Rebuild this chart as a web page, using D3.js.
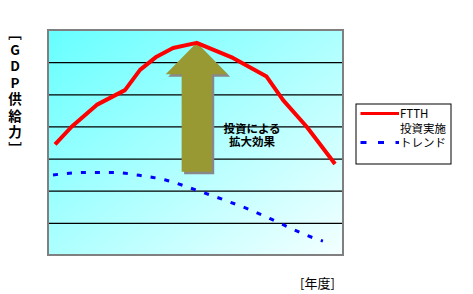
<!DOCTYPE html>
<html>
<head>
<meta charset="utf-8">
<script src="https://cdn.jsdelivr.net/npm/d3@7"></script>
<style>
  body { margin: 0; background: #fff; }
  svg { display: block; font-family: "Noto Sans CJK JP", sans-serif; }
</style>
</head>
<body>
<div id="chart"></div>
<script>
// data (x: position along the period axis 0-100, y: GDP supply level 0-7)
var ftthX = [2.4, 8, 16.5, 26.1, 31.2, 36.8, 42.4, 50.4, 62.7, 74.1, 79.7, 87.7, 97.3];
var ftthY = [3.44, 3.99, 4.67, 5.13, 5.76, 6.17, 6.44, 6.6, 6.13, 5.55, 4.82, 3.99, 2.83];
var trendX = [1.7, 12.5, 21.9, 30.9, 40.4, 50.2, 59.8, 69.2, 78.4, 88.0, 93.2];
var trendY = [2.49, 2.57, 2.57, 2.48, 2.32, 2.02, 1.71, 1.38, 1.0, 0.6, 0.43];
var gridTicks = [1, 2, 3, 4, 5, 6];
// arrow: tip, head base, shaft bottom (data units)
var arrowX = 50.4;
var arrowLevels = [6.6, 5.62, 2.59];
var legendLabels = [["FTTH", "投資実施"], ["トレンド"]];
var yTitle = ["﹇", "G", "D", "P", "供", "給", "力", "﹈"];

var W = 473, H = 294;
var margin = {top: 30, right: 130, bottom: 39, left: 48};
var width = W - margin.left - margin.right;
var height = H - margin.top - margin.bottom;

var svg = d3.select("#chart").append("svg")
    .attr("width", W)
    .attr("height", H);

var defs = svg.append("defs");
var grad = defs.append("linearGradient")
    .attr("id", "bg")
    .attr("x1", "0%").attr("y1", "0%")
    .attr("x2", "100%").attr("y2", "100%");
grad.append("stop").attr("offset", "0%").attr("stop-color", "#66ffff");
grad.append("stop").attr("offset", "100%").attr("stop-color", "#f4ffff");

var g = svg.append("g")
    .attr("transform", "translate(" + margin.left + "," + margin.top + ")");

var x = d3.scaleLinear().domain([0, 100]).range([0, width]);
var y = d3.scaleLinear().domain([0, 7]).range([height, 0]);

// plot background
g.append("rect")
    .attr("width", width)
    .attr("height", height)
    .style("fill", "url(#bg)");

// gridlines
g.append("g")
    .attr("class", "grid")
    .call(d3.axisLeft(y).tickValues(gridTicks).tickSize(-width).tickFormat(""))
    .call(function (s) {
        s.select(".domain").remove();
        s.selectAll("line").attr("stroke", "#000").attr("stroke-width", 1.3);
    });

// plot border
g.append("rect")
    .attr("width", width)
    .attr("height", height)
    .style("fill", "none")
    .style("stroke", "#808080")
    .style("stroke-width", 2);

// big arrow with shadow
var headHalf = 10.5, shaftHalf = 5.1;
function arrowPts() {
    var tip = y(arrowLevels[0]), base = y(arrowLevels[1]), bot = y(arrowLevels[2]);
    var cx = x(arrowX);
    var hw = x(headHalf) - x(0), sw = x(shaftHalf) - x(0);
    return [[cx, tip], [cx + hw, base], [cx + sw, base], [cx + sw, bot],
        [cx - sw, bot], [cx - sw, base], [cx - hw, base]];
}
g.append("polygon")
    .attr("points", arrowPts().map(function (p) { return (p[0] + 2.5) + "," + (p[1] + 2.5); }).join(" "))
    .style("fill", "#888888");
g.append("polygon")
    .attr("points", arrowPts().map(function (p) { return p.join(","); }).join(" "))
    .style("fill", "#999933");

// annotation
var note = g.append("text")
    .attr("text-anchor", "middle")
    .style("font-size", "11.5px")
    .style("font-weight", "bold");
note.append("tspan").attr("x", 204).attr("y", 102.5).text("投資による");
note.append("tspan").attr("x", 204).attr("y", 116).text("拡大効果");

var line = d3.line()
    .x(function (d) { return x(d[0]); })
    .y(function (d) { return y(d[1]); });
var curve = d3.line()
    .x(function (d) { return x(d[0]); })
    .y(function (d) { return y(d[1]); })
    .curve(d3.curveMonotoneX);

g.append("path")
    .datum(d3.zip(trendX, trendY))
    .attr("d", curve)
    .style("fill", "none")
    .style("stroke", "#0000ff")
    .style("stroke-width", 3)
    .style("stroke-dasharray", "5,9");

g.append("path")
    .datum(d3.zip(ftthX, ftthY))
    .attr("d", line)
    .style("fill", "none")
    .style("stroke", "#ff0000")
    .style("stroke-width", 4)
    .style("stroke-linejoin", "round");

// legend
var legend = svg.append("g").attr("transform", "translate(356,104)");
legend.append("rect")
    .attr("width", 95)
    .attr("height", 60)
    .style("fill", "#fff")
    .style("stroke", "#000")
    .style("stroke-width", 1);
legend.append("line")
    .attr("x1", 4.5).attr("x2", 43).attr("y1", 9.5).attr("y2", 9.5)
    .style("stroke", "#ff0000").style("stroke-width", 3);
legend.append("line")
    .attr("x1", 4.5).attr("x2", 43).attr("y1", 38.5).attr("y2", 38.5)
    .style("stroke", "#0000ff").style("stroke-width", 3)
    .style("stroke-dasharray", "6,11.5");
var lt = legend.append("text").style("font-size", "11.5px");
lt.append("tspan").attr("x", 44).attr("y", 14).text(legendLabels[0][0]);
lt.append("tspan").attr("x", 44).attr("y", 29).text(legendLabels[0][1]);
lt.append("tspan").attr("x", 44).attr("y", 43).text(legendLabels[1][0]);

// axis titles
svg.append("g")
    .selectAll("text")
    .data(yTitle)
    .enter().append("text")
    .attr("x", 15)
    .attr("y", function (d, i) { return 38 + i * 16.5; })
    .attr("text-anchor", "middle")
    .style("font-size", "13.5px")
    .style("font-weight", "bold")
    .text(function (d) { return d; });

svg.append("text")
    .attr("x", 300)
    .attr("y", 288)
    .style("font-size", "13px")
    .text("[年度]");
</script>
</body>
</html>
